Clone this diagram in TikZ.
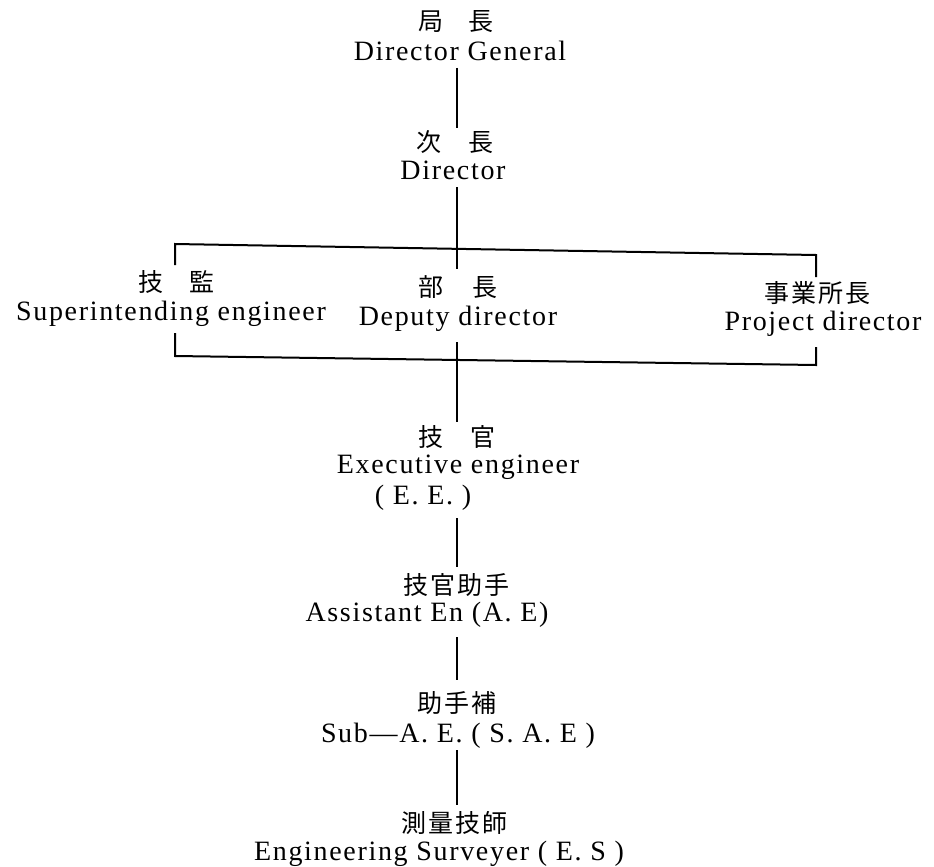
\documentclass[tikz,border=0pt]{standalone}
\usepackage{fontspec}
\setmainfont{Liberation Serif}[LetterSpace=6]
\newfontfamily\jpfont{Noto Sans CJK JP}[LetterSpace=8]
\usetikzlibrary{calc}
\tikzset{
  en/.style={font=\fontsize{28}{30}\selectfont, inner sep=0pt, anchor=base},
  jp/.style={font=\jpfont\fontsize{25}{27}\selectfont, inner sep=0pt, anchor=center},
  conn/.style={line width=2.6pt},
  brk/.style={line width=2pt, line join=miter, line cap=butt}
}
\begin{document}
\begin{tikzpicture}[x=1pt,y=-1pt]
\path[use as bounding box, fill=white] (0,0) rectangle (934,867);
\coordinate (spine) at (457,0);

% titles
\node[jp] (dgj) at (456,22) {局\hspace{25pt}長};
\node[en] (dg)  at (460,61) {Director General};
\node[jp] (dirj) at (455,142) {次\hspace{27pt}長};
\node[en] (dir)  at (453,179) {Director};

\node[jp] (sej) at (176,282) {技\hspace{26pt}監};
\node[en] (se)  at (171,320) {Superintending engineer};
\node[jp] (ddj) at (458,287) {部\hspace{29pt}長};
\node[en] (dd)  at (458,325) {Deputy director};
\node[jp] (pdj) at (817,293) {事業所長};
\node[en] (pd)  at (823,330) {Project director};

\node[jp] (eej) at (457,437) {技\hspace{27pt}官};
\node[en] (ee)  at (458,473) {Executive engineer};
\node[en] (ee2) at (423,504) {( E. E. )};
\node[jp] (aej) at (456,585) {技官助手};
\node[en] (ae)  at (427,621) {Assistant En (A. E)};
\node[jp] (saej) at (457,703) {助手補};
\node[en] (sae)  at (458,742) {Sub—A. E. ( S. A. E )};
\node[jp] (esj) at (454,823) {測量技師};
\node[en] (es)  at (439,860) {Engineering Surveyer ( E. S )};

% bracket
\coordinate (tl) at (175,244);
\coordinate (tr) at (816,255);
\coordinate (bl) at (175,356);
\coordinate (br) at (816,365);
\draw[brk] ($(tl)+(0,21)$) -- (tl) -- (tr) -- ($(tr)+(0,22)$);
\draw[brk] ($(bl)+(0,-23)$) -- (bl) -- (br) -- ($(br)+(0,-18)$);
\coordinate (tj) at (457,269);
\coordinate (bj) at (457,342);

% connectors
\draw[conn] (dg.base -| spine) ++(0,7) -- ($(dirj.north -| spine)+(0,-2)$);
\draw[conn] (dir.base -| spine) ++(0,8) -- (tj);
\draw[conn] (bj) -- ($(eej.north -| spine)+(0,-3)$);
\draw[conn] (ee2.base -| spine) ++(0,14) -- ($(aej.north -| spine)+(0,-6)$);
\draw[conn] (ae.base -| spine) ++(0,16) -- ($(saej.north -| spine)+(0,-11)$);
\draw[conn] (sae.base -| spine) ++(0,8) -- ($(esj.north -| spine)+(0,-6)$);
\end{tikzpicture}
\end{document}
